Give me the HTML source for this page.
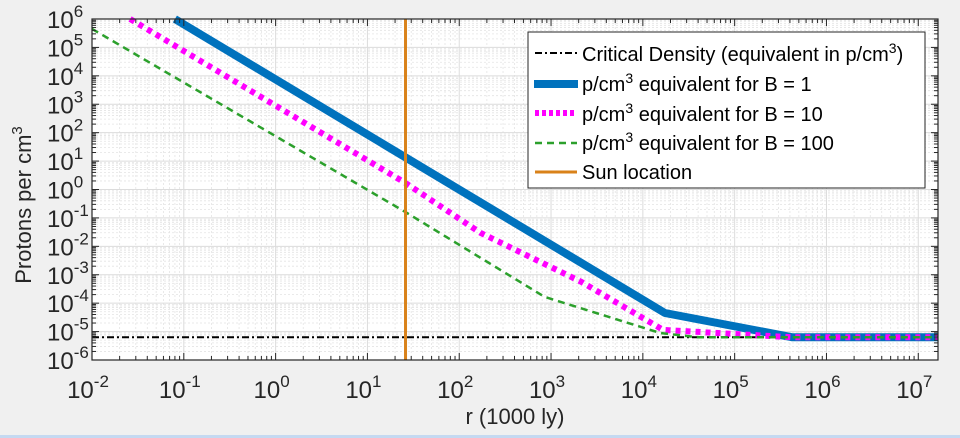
<!DOCTYPE html>
<html><head><meta charset="utf-8"><style>
html,body{margin:0;padding:0;background:#f0f0f0;}
svg{display:block;font-family:"Liberation Sans",Arial,sans-serif;}
</style></head><body>
<svg id="chart" width="960" height="438" viewBox="0 0 960 438" xmlns="http://www.w3.org/2000/svg">
<rect x="0" y="0" width="960" height="438" fill="#f0f0f0"/>
<rect x="0" y="435" width="960" height="3" fill="#c5d9f1"/>
<rect x="92" y="19" width="846" height="341" fill="#ffffff"/>
<g id="grid"></g>
<g id="series"></g>
<rect x="92" y="19" width="846" height="341" fill="none" stroke="#262626" stroke-width="1.2"/>
<g id="ticks"></g>
<text x="515" y="424" font-size="22" fill="#262626" text-anchor="middle">r (1000 ly)</text>
<text transform="translate(31,205) rotate(-90)" font-size="22" fill="#262626" text-anchor="middle">Protons per cm<tspan dy="-9" font-size="15">3</tspan></text>
<g id="legend">
<rect x="528" y="32" width="397" height="156" fill="#ffffff" stroke="#262626" stroke-width="1"/>
<line x1="535" y1="53" x2="577" y2="53" stroke="#000" stroke-width="2" stroke-dasharray="7,3,2,3"/>
<text x="582" y="61" font-size="20" fill="#000">Critical Density (equivalent in p/cm<tspan dy="-8" font-size="14">3</tspan><tspan dy="8">)</tspan></text>
<line x1="534" y1="84" x2="578" y2="84" stroke="#0072bd" stroke-width="8"/>
<text x="582" y="91" font-size="20" fill="#000">p/cm<tspan dy="-8" font-size="14">3</tspan><tspan dy="8"> equivalent for B = 1</tspan></text>
<line x1="535" y1="113" x2="577" y2="113" stroke="#ff00ff" stroke-width="6" stroke-dasharray="4,3"/>
<text x="582" y="121" font-size="20" fill="#000">p/cm<tspan dy="-8" font-size="14">3</tspan><tspan dy="8"> equivalent for B = 10</tspan></text>
<line x1="535" y1="143" x2="577" y2="143" stroke="#2ca02c" stroke-width="2.5" stroke-dasharray="7,5"/>
<text x="582" y="150" font-size="20" fill="#000">p/cm<tspan dy="-8" font-size="14">3</tspan><tspan dy="8"> equivalent for B = 100</tspan></text>
<line x1="535" y1="172" x2="577" y2="172" stroke="#d9821a" stroke-width="3"/>
<text x="582" y="179" font-size="20" fill="#000">Sun location</text>
</g>
</svg>
<script>
// data
const xTicksExp = [-2,-1,0,1,2,3,4,5,6,7];
const yTicksExp = [-6,-5,-4,-3,-2,-1,0,1,2,3,4,5,6];
const criticalDensity = 6.3e-6;
const sunR = 26;
const b1R = [0.08, 17400, 427000, 1.64e7];
const b1N = [1e6, 4.5e-5, 6.3e-6, 6.3e-6];
const b10R = [0.026, 26, 170, 2140, 16600, 427000, 1.64e7];
const b10N = [1e6, 1.7, 0.03, 5.6e-4, 1.15e-5, 6.3e-6, 6.3e-6];
const b100R = [0.01, 26, 850, 15500, 40000, 1.64e7];
const b100N = [4.5e5, 0.16, 1.66e-4, 8.9e-6, 6.3e-6, 6.3e-6];

const X0=92, X1=938, Y0=360, Y1=19;
const xMinL=-2, xMaxL=Math.log10(1.64e7), yMinL=-6, yMaxL=6;
function xs(v){return X0+(Math.log10(v)-xMinL)/(xMaxL-xMinL)*(X1-X0);}
function ys(v){return Y0-(Math.log10(v)-yMinL)/(yMaxL-yMinL)*(Y0-Y1);}
const NS="http://www.w3.org/2000/svg";
function mk(tag,attrs,parent){const e=document.createElementNS(NS,tag);for(const k in attrs)e.setAttribute(k,attrs[k]);parent.appendChild(e);return e;}
const grid=document.getElementById('grid'), ticks=document.getElementById('ticks'), series=document.getElementById('series');

for(let e=xMinL;e<=Math.floor(xMaxL);e++){
  for(let m=1;m<10;m++){
    const v=m*Math.pow(10,e); if(Math.log10(v)>xMaxL) break;
    const x=xs(v);
    const g=mk('line',{x1:x,y1:Y1,x2:x,y2:Y0,stroke:m===1?'#dcdcdc':'#e4e4e4','stroke-width':m===1?1:0.8,'stroke-dasharray':m===1?'none':'2,2'},grid);
    
    
    const len=m===1?7:4;
    const t1=mk('line',{x1:x,y1:Y0,x2:x,y2:Y0-len,stroke:'#262626','stroke-width':1},ticks);
    
    
    const t2=mk('line',{x1:x,y1:Y1,x2:x,y2:Y1+len,stroke:'#262626','stroke-width':1},ticks);
    
    
  }
}
for(let e=yMinL;e<=yMaxL;e++){
  for(let m=1;m<10;m++){
    const v=m*Math.pow(10,e); if(Math.log10(v)>yMaxL+1e-9) break;
    const y=ys(v);
    const g=mk('line',{x1:X0,y1:y,x2:X1,y2:y,stroke:m===1?'#dcdcdc':'#e4e4e4','stroke-width':m===1?1:0.8,'stroke-dasharray':m===1?'none':'2,2'},grid);
    
    
    const len=m===1?7:4;
    const t1=mk('line',{x1:X0,y1:y,x2:X0+len,y2:y,stroke:'#262626','stroke-width':1},ticks);
    
    
    const t2=mk('line',{x1:X1,y1:y,x2:X1-len,y2:y,stroke:'#262626','stroke-width':1},ticks);
    
    
  }
}
xTicksExp.forEach(e=>{
  const x=xs(Math.pow(10,e));
  const t=mk('text',{x:x-4,y:398,'font-size':24,fill:'#262626','text-anchor':'middle'},ticks);
  
  
  t.innerHTML='10<tspan dy="-11" font-size="17">'+e+'</tspan>';
});
yTicksExp.forEach(e=>{
  const y=ys(Math.pow(10,e));
  const t=mk('text',{x:47,y:y+9,'font-size':24,fill:'#262626'},ticks);
  
  
  t.innerHTML='10<tspan dy="-11" font-size="17">'+e+'</tspan>';
});
function path(R,N){return R.map((r,i)=>(i?'L':'M')+xs(r).toFixed(1)+','+ys(N[i]).toFixed(1)).join(' ');}
const crit=mk('line',{x1:X0,y1:ys(criticalDensity),x2:X1,y2:ys(criticalDensity),stroke:'#000','stroke-width':2,'stroke-dasharray':'7,3,2,3'},series);


const p1=mk('path',{d:path(b1R,b1N),fill:'none',stroke:'#0072bd','stroke-width':8,'stroke-linejoin':'round'},series);


const p10=mk('path',{d:path(b10R,b10N),fill:'none',stroke:'#ff00ff','stroke-width':6,'stroke-dasharray':'5,5'},series);


const p100=mk('path',{d:path(b100R,b100N),fill:'none',stroke:'#2ca02c','stroke-width':2.5,'stroke-dasharray':'7,5'},series);


const sun=mk('line',{x1:xs(sunR),y1:Y1,x2:xs(sunR),y2:Y0,stroke:'#d9821a','stroke-width':3},series);


</script>
</body></html>
